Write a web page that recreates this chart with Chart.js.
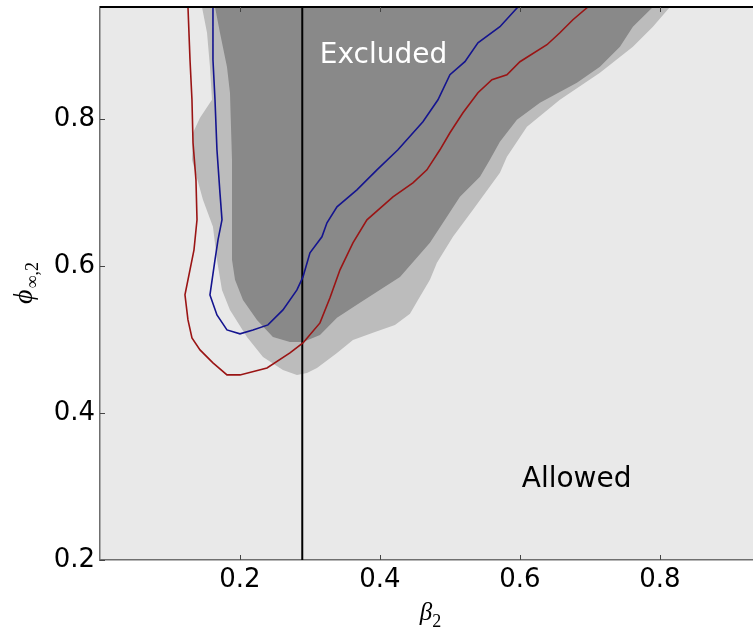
<!DOCTYPE html>
<html>
<head>
<meta charset="utf-8">
<script src="https://cdn.jsdelivr.net/npm/chart.js@4.4.1/dist/chart.umd.min.js"></script>
<style>
  html, body { margin: 0; padding: 0; background: #fff; }
  #wrap { width: 753px; height: 632px; position: relative; }
</style>
</head>
<body>
<div id="wrap"><canvas id="myChart"></canvas></div>
<script>
// beta_2 on x, phi_inf,2 on y
const redX = [0.1257, 0.1286, 0.1314, 0.1329, 0.1371, 0.1386, 0.1343, 0.1214, 0.1257, 0.1314, 0.1429, 0.1614, 0.1814, 0.2, 0.2386, 0.2714, 0.29, 0.3143, 0.3286, 0.3429, 0.3614, 0.3814, 0.4186, 0.4471, 0.4671, 0.4857, 0.5, 0.5186, 0.54, 0.56, 0.5814, 0.6, 0.6386, 0.6571, 0.6757, 0.6971];
const redY = [0.952, 0.8803, 0.8259, 0.7673, 0.717, 0.6626, 0.6218, 0.5605, 0.5265, 0.502, 0.4857, 0.468, 0.4517, 0.4517, 0.4612, 0.4816, 0.4952, 0.5224, 0.5565, 0.5946, 0.6313, 0.6626, 0.6939, 0.7129, 0.7306, 0.7578, 0.781, 0.8082, 0.8354, 0.8531, 0.8599, 0.8776, 0.9007, 0.917, 0.9347, 0.952];

const blueX = [0.1614, 0.1614, 0.1643, 0.1671, 0.1714, 0.1743, 0.1686, 0.1643, 0.1571, 0.1671, 0.1814, 0.2, 0.2186, 0.24, 0.2614, 0.2814, 0.29, 0.3, 0.3171, 0.3243, 0.3386, 0.3671, 0.3957, 0.4257, 0.4614, 0.4829, 0.5, 0.5214, 0.54, 0.5714, 0.5971];
const blueY = [0.952, 0.8803, 0.8259, 0.7578, 0.6993, 0.6626, 0.6354, 0.6082, 0.5605, 0.5333, 0.5129, 0.5075, 0.5129, 0.5197, 0.5401, 0.5673, 0.585, 0.6177, 0.6395, 0.6585, 0.6803, 0.7034, 0.7306, 0.7578, 0.7959, 0.8259, 0.8599, 0.8776, 0.9034, 0.9252, 0.952];

const darkX = [0.1643, 0.1714, 0.1814, 0.1857, 0.1886, 0.1886, 0.1886, 0.1929, 0.2043, 0.2243, 0.2471, 0.2714, 0.29, 0.3143, 0.3386, 0.3714, 0.4286, 0.4714, 0.4957, 0.5143, 0.5429, 0.5571, 0.5714, 0.5957, 0.6286, 0.6814, 0.7143, 0.7429, 0.7614, 0.79];
const darkY = [0.952, 0.917, 0.8707, 0.8354, 0.7442, 0.6531, 0.6082, 0.581, 0.5537, 0.5265, 0.5034, 0.4966, 0.4966, 0.5061, 0.5293, 0.5497, 0.585, 0.6313, 0.6667, 0.6939, 0.7211, 0.7442, 0.7687, 0.7986, 0.8218, 0.849, 0.8707, 0.898, 0.9252, 0.952];

const lightX = [0.1457, 0.1529, 0.1571, 0.16, 0.1429, 0.1329, 0.1314, 0.1471, 0.1614, 0.1671, 0.1743, 0.1857, 0.21, 0.2329, 0.2614, 0.2814, 0.2957, 0.31, 0.3386, 0.3614, 0.3929, 0.4214, 0.4429, 0.4543, 0.4714, 0.4814, 0.5043, 0.5329, 0.5714, 0.5814, 0.61, 0.6571, 0.7143, 0.7614, 0.79, 0.8143];
const lightY = [0.952, 0.917, 0.8707, 0.8259, 0.8014, 0.781, 0.7442, 0.6898, 0.6531, 0.6082, 0.5673, 0.5401, 0.5034, 0.4762, 0.4585, 0.4517, 0.4544, 0.4612, 0.4816, 0.4993, 0.5102, 0.5197, 0.5347, 0.5537, 0.581, 0.6041, 0.6395, 0.6762, 0.7265, 0.7483, 0.7891, 0.8259, 0.8626, 0.898, 0.9252, 0.952];

const cutX = 0.289;
const xTicks = [0.2, 0.4, 0.6, 0.8];
const yTicks = [0.2, 0.4, 0.6, 0.8];
const xRange = [0, 0.933];
const yRange = [0.2, 0.952];

const noteText = ["Excluded", "Allowed"];
const noteX = [0.405, 0.681];
const noteY = [0.876, 0.299];

const toPoints = (xs, ys) => xs.map((x, i) => ({ x: x, y: ys[i] }));

const FONT = "'DejaVu Sans', sans-serif";

const plotDecor = {
  id: "plotDecor",
  beforeDraw(chart) {
    const { ctx, chartArea: a } = chart;
    ctx.save();
    ctx.fillStyle = "#e9e9e9";
    ctx.fillRect(a.left, a.top, a.right - a.left, a.bottom - a.top);
    ctx.restore();
  },
  afterDraw(chart) {
    const { ctx, chartArea: a, scales } = chart;
    ctx.save();

    // top frame line
    ctx.strokeStyle = "#000";
    ctx.lineWidth = 2;
    ctx.beginPath();
    ctx.moveTo(a.left, a.top);
    ctx.lineTo(a.right, a.top);
    ctx.stroke();

    // inward tick marks
    ctx.strokeStyle = "#444";
    ctx.lineWidth = 1;
    xTicks.forEach((v) => {
      const px = Math.round(scales.x.getPixelForValue(v)) + 0.5;
      ctx.beginPath();
      ctx.moveTo(px, a.bottom);
      ctx.lineTo(px, a.bottom - 5);
      ctx.moveTo(px, a.top);
      ctx.lineTo(px, a.top + 5);
      ctx.stroke();
    });
    yTicks.forEach((v) => {
      const py = Math.round(scales.y.getPixelForValue(v)) + 0.5;
      ctx.beginPath();
      ctx.moveTo(a.left, py);
      ctx.lineTo(a.left + 5, py);
      ctx.stroke();
    });

    // region notes
    ctx.font = "28px " + FONT;
    ctx.textAlign = "center";
    ctx.textBaseline = "alphabetic";
    noteText.forEach((t, i) => {
      ctx.fillStyle = i === 0 ? "#ffffff" : "#000000";
      ctx.fillText(t, scales.x.getPixelForValue(noteX[i]), scales.y.getPixelForValue(noteY[i]));
    });

    // axis titles with subscripts
    ctx.fillStyle = "#000";
    ctx.textAlign = "left";
    const mainFont = "italic 25px 'Liberation Serif', serif";
    const phiFont = "italic 28px 'Liberation Serif', serif";
    const subFont = "18px 'Liberation Serif', serif";

    ctx.font = mainFont;
    const bw = ctx.measureText("β").width;
    ctx.font = subFont;
    const sw = ctx.measureText("2").width;
    const bx = (a.left + a.right) / 2 - (bw + sw) / 2 + 4;
    const by = a.bottom + 60;
    ctx.font = mainFont;
    ctx.fillText("β", bx, by);
    ctx.font = subFont;
    ctx.fillText("2", bx + bw, by + 7);

    ctx.font = phiFont;
    const pw = ctx.measureText("ϕ").width;
    ctx.font = subFont;
    const pw2 = ctx.measureText("∞,2").width;
    ctx.translate(32, (a.top + a.bottom) / 2 + (pw + pw2) / 2);
    ctx.rotate(-Math.PI / 2);
    ctx.font = phiFont;
    ctx.fillText("ϕ", 0, 0);
    ctx.font = subFont;
    ctx.fillText("∞,2", pw + 1, 6);

    ctx.restore();
  }
};

const ctx = document.getElementById("myChart").getContext("2d");

const data = {
  datasets: [
    {
      label: "red contour",
      data: toPoints(redX, redY),
      borderColor: "#9a1414",
      borderWidth: 1.6,
      fill: false,
    },
    {
      label: "blue contour",
      data: toPoints(blueX, blueY),
      borderColor: "#14148f",
      borderWidth: 1.6,
      fill: false,
    },
    {
      label: "cut",
      data: [{ x: cutX, y: yRange[0] }, { x: cutX, y: yRange[1] }],
      borderColor: "#000000",
      borderWidth: 2,
      fill: false,
    },
    {
      label: "excluded core",
      data: toPoints(darkX, darkY),
      borderWidth: 0,
      borderColor: "rgba(0,0,0,0)",
      backgroundColor: "#898989",
      fill: "shape",
    },
    {
      label: "excluded outer",
      data: toPoints(lightX, lightY),
      borderWidth: 0,
      borderColor: "rgba(0,0,0,0)",
      backgroundColor: "#bcbcbc",
      fill: "shape",
    },
  ],
};

const config = {
  type: "scatter",
  data: data,
  options: {
    responsive: true,
    maintainAspectRatio: false,
    animation: false,
    showLine: true,
    elements: {
      point: { radius: 0, hoverRadius: 0 },
      line: { tension: 0 },
    },
    layout: { padding: { top: 7, right: 0, bottom: 0, left: 0 } },
    plugins: {
      legend: { display: false },
      tooltip: { enabled: false },
    },
    scales: {
      x: {
        type: "linear",
        min: xRange[0],
        max: xRange[1],
        afterBuildTicks: (scale) => { scale.ticks = xTicks.map((v) => ({ value: v })); },
        afterFit: (scale) => {
          scale.height = 72;
          scale.paddingLeft = 0;
          scale.paddingRight = 0;
        },
        grid: { drawOnChartArea: false, drawTicks: false },
        border: { display: true, color: "#6f6f6f", width: 1.5 },
        ticks: {
          padding: 5,
          color: "#000",
          font: { family: FONT, size: 26 },
          maxRotation: 0,
          callback: (v) => Number(v).toFixed(1),
        },
      },
      y: {
        type: "linear",
        min: yRange[0],
        max: yRange[1],
        afterBuildTicks: (scale) => { scale.ticks = yTicks.map((v) => ({ value: v })); },
        afterFit: (scale) => {
          scale.width = 100;
          scale.paddingTop = 0;
          scale.paddingBottom = 0;
        },
        grid: { drawOnChartArea: false, drawTicks: false },
        border: { display: true, color: "#6f6f6f", width: 1.5 },
        ticks: {
          padding: 5,
          color: "#000",
          font: { family: FONT, size: 26 },
          callback: (v) => Number(v).toFixed(1),
        },
      },
    },
  },
  plugins: [plotDecor],
};

const myChart = new Chart(ctx, config);
</script>
</body>
</html>
